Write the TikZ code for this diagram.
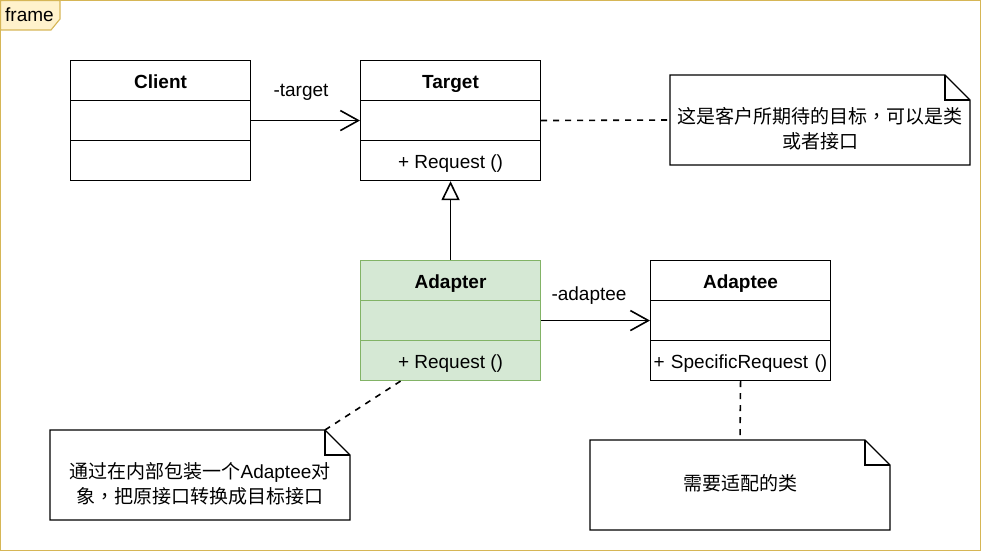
\documentclass[tikz,border=0pt]{standalone}
\usepackage{fontspec}
\setmainfont{Liberation Sans}
\newfontfamily\cjk{Noto Sans CJK SC}
\newfontfamily\cjktc{Noto Sans CJK TC}
\newcommand{\cmm}{{\cjktc ，}}
\usetikzlibrary{arrows.meta}
\definecolor{frameC}{HTML}{D6B656}
\definecolor{frameF}{HTML}{FFF2CC}
\definecolor{adaptF}{HTML}{D5E8D4}
\definecolor{adaptS}{HTML}{82B366}
\begin{document}
\begin{tikzpicture}[x=1pt,y=-1pt,
  every node/.style={font=\fontsize{19}{23}\selectfont},
  comp/.style={draw=black,line width=1.1pt,minimum width=180pt,minimum height=40pt,inner sep=0pt,anchor=north west,fill=white,text height=17pt,text depth=2pt},
  gcomp/.style={comp,draw=adaptS,fill=adaptF},
  notebox/.style={line width=1.1pt,draw=black,fill=white},
  assoc/.style={line width=1.6pt,-{Straight Barb[length=18pt,width=20pt,line width=1.6pt]}},
  inherit/.style={line width=1.6pt,-{Triangle[open,length=19pt,width=18pt,fill=white,line width=1.6pt]}},
  dashlink/.style={line width=1.6pt,dash pattern=on 6pt off 6pt},
  lbl/.style={inner sep=0pt}
]
\useasboundingbox (0,0) rectangle (981,551);
% frame
\draw[frameC,line width=1.1pt] (0.5,0.5) rectangle (980.5,550.5);
\draw[frameC,fill=frameF,line width=1.1pt] (0.5,0.5) -- (60,0.5) -- (60,19) -- (51,30) -- (0.5,30) -- cycle;
\node[lbl,anchor=west] (frm) at (5,15) {frame};

% Client
\node[comp] (c1) at (70,60) {\textbf{Client}};
\node[comp] (c2) at (70,100) {};
\node[comp] (c3) at (70,140) {};
% Target
\node[comp] (t1) at (360,60) {\textbf{Target}};
\node[comp] (t2) at (360,100) {};
\node[comp] (t3) at (360,140) {+ Request ()};
% Adapter
\node[gcomp] (a1) at (360,260) {\textbf{Adapter}};
\node[gcomp] (a2) at (360,300) {};
\node[gcomp] (a3) at (360,340) {+ Request ()};
% Adaptee
\node[comp] (e1) at (650,260) {\textbf{Adaptee}};
\node[comp] (e2) at (650,300) {};
\node[comp,text width=174pt,align=left,inner xsep=3pt] (e3) at (650,340) {+ SpecificRequest ()};

% notes
\draw[notebox] (670,75) -- (945,75) -- (970,100) -- (970,165) -- (670,165) -- cycle;
\draw[line width=1.1pt] (945,75) -- (945,100) -- (970,100);
\node[lbl,align=center,font=\cjk\fontsize{19}{25}\selectfont] (n1) at (820,129) {这是客户所期待的目标\cmm 可以是类\\或者接口};
\coordinate (n1w) at (670,120);

\draw[notebox] (50,430) -- (325,430) -- (350,455) -- (350,520) -- (50,520) -- cycle;
\draw[line width=1.1pt] (325,430) -- (325,455) -- (350,455);
\node[lbl,align=center,font=\cjk\fontsize{19}{25}\selectfont] (n2) at (200,484) {通过在内部包装一个{\fontspec{Liberation Sans}Adaptee}对\\象\cmm 把原接口转换成目标接口};
\coordinate (n2c) at (325,430);

\draw[notebox] (590,440) -- (865,440) -- (890,465) -- (890,530) -- (590,530) -- cycle;
\draw[line width=1.1pt] (865,440) -- (865,465) -- (890,465);
\node[lbl,font=\cjk\fontsize{19}{25}\selectfont] (n3) at (740,483) {需要适配的类};
\coordinate (n3t) at (740,440);

% connectors
\draw[assoc] (c2.east) -- (t2.west);
\node[lbl] (lt) at (301,92) {-target};
\draw[dashlink] (t2.east) -- (n1w);
\draw[inherit] (a1.north) -- (t3.south);
\draw[assoc] (a2.east) -- (e2.west);
\node[lbl] (la) at (589,296) {-adaptee};
\draw[dashlink] ([xshift=-50pt]a3.south) -- (n2c);
\draw[dashlink] (e3.south) -- (n3t);
\end{tikzpicture}
\end{document}
